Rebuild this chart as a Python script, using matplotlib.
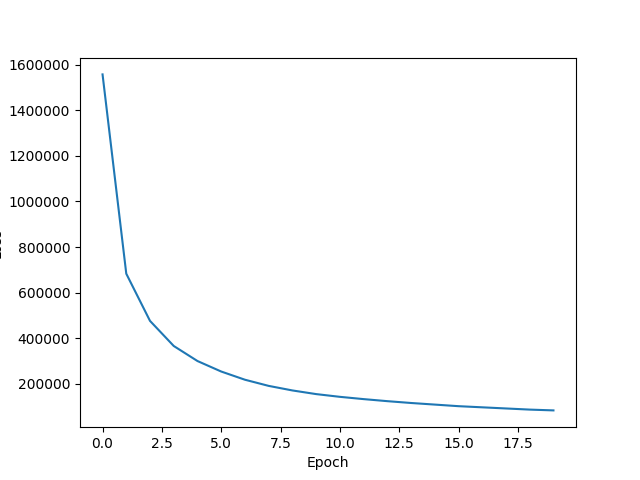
import numpy as np
import matplotlib
matplotlib.use("Agg")
import matplotlib.pyplot as plt

epochs = list(range(20))
loss = [1557000, 683000, 476000, 366000, 300000, 254000, 218000, 191000,
        171000, 155000, 143000, 133000, 124000, 116000, 109000, 102000,
        97000, 92000, 87000, 83500]

plt.figure(figsize=(6.4, 4.8))
plt.plot(epochs, loss)
plt.xlabel("Epoch")
plt.ylabel("Loss")
plt.ticklabel_format(style="plain", axis="y")
plt.savefig("out.png", dpi=100)
